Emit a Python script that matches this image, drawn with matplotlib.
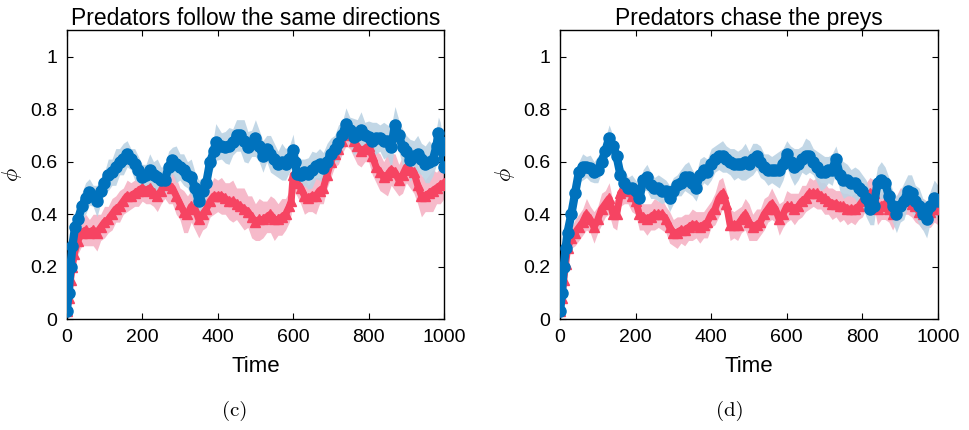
import matplotlib
matplotlib.use("Agg")
import matplotlib.pyplot as plt
import numpy as np

plt.rcParams['font.family'] = ['Liberation Sans', 'DejaVu Sans']
plt.rcParams['mathtext.fontset'] = 'cm'

# panel (c): predators follow the same directions
t_blue_c = [0, 5, 10, 15, 22, 30, 40, 50, 60, 70, 80, 90, 100, 110, 120, 130, 140, 150, 160, 170,
            180, 190, 200, 210, 220, 230, 240, 250, 260, 270, 280, 290, 300, 310, 320, 330, 340, 350,
            360, 370, 380, 390, 395, 410, 420, 430, 440, 450, 460, 470, 480, 490, 500, 510, 520, 530,
            540, 550, 560, 570, 580, 590, 600, 605, 610, 620, 630, 640, 650, 660, 670, 680, 690, 700,
            710, 720, 730, 740, 750, 760, 770, 780, 790, 800, 810, 820, 830, 840, 850, 860, 870, 880,
            890, 900, 910, 920, 930, 940, 950, 960, 970, 980, 985, 990, 995, 1000]
blue_c = [0.03, 0.10, 0.20, 0.28, 0.35, 0.38, 0.43, 0.46, 0.485, 0.47, 0.45, 0.49, 0.52, 0.55, 0.56, 0.58,
          0.60, 0.61, 0.63, 0.61, 0.59, 0.57, 0.54, 0.55, 0.57, 0.55, 0.54, 0.53, 0.53, 0.58, 0.605, 0.59,
          0.58, 0.57, 0.55, 0.54, 0.50, 0.45, 0.49, 0.52, 0.60, 0.64, 0.675, 0.66, 0.655, 0.66, 0.675, 0.70,
          0.70, 0.68, 0.655, 0.67, 0.69, 0.66, 0.62, 0.65, 0.63, 0.61, 0.59, 0.60, 0.59, 0.61, 0.645, 0.60,
          0.555, 0.55, 0.56, 0.555, 0.57, 0.585, 0.59, 0.575, 0.60, 0.63, 0.65, 0.67, 0.70, 0.745, 0.72,
          0.695, 0.70, 0.72, 0.70, 0.695, 0.68, 0.69, 0.69, 0.68, 0.68, 0.655, 0.74, 0.70, 0.655, 0.64,
          0.605, 0.62, 0.63, 0.61, 0.59, 0.60, 0.605, 0.66, 0.71, 0.68, 0.645, 0.58]
err_blue_c = [0.01, 0.02, 0.03, 0.04, 0.05, 0.05, 0.05, 0.06, 0.05, 0.04, 0.06, 0.05, 0.04, 0.06, 0.05, 0.07,
              0.05, 0.06, 0.05, 0.04, 0.06, 0.05, 0.05, 0.04, 0.06, 0.05, 0.07, 0.05, 0.05, 0.06, 0.05, 0.07,
              0.05, 0.06, 0.05, 0.07, 0.06, 0.08, 0.05, 0.06, 0.05, 0.06, 0.07, 0.05, 0.06, 0.07, 0.05, 0.06,
              0.06, 0.08, 0.06, 0.05, 0.07, 0.06, 0.06, 0.05, 0.07, 0.06, 0.05, 0.07, 0.06, 0.05, 0.06, 0.05,
              0.05, 0.06, 0.05, 0.06, 0.07, 0.05, 0.06, 0.06, 0.07, 0.06, 0.05, 0.07, 0.05, 0.06, 0.05, 0.07,
              0.06, 0.07, 0.05, 0.06, 0.07, 0.06, 0.05, 0.07, 0.06, 0.08, 0.07, 0.06, 0.07, 0.06, 0.08, 0.06,
              0.07, 0.06, 0.07, 0.08, 0.06, 0.07, 0.06, 0.07, 0.06, 0.05]

t_red_c = [0, 5, 10, 15, 20, 30, 40, 50, 60, 70, 80, 90, 100, 110, 120, 130, 140, 150, 160, 170, 180,
           190, 200, 210, 220, 230, 240, 250, 260, 270, 280, 290, 300, 310, 320, 330, 340, 350, 360, 370,
           380, 390, 400, 410, 420, 430, 440, 450, 460, 470, 480, 490, 500, 510, 520, 530, 540, 550, 560,
           570, 580, 590, 595, 600, 610, 620, 630, 640, 650, 660, 670, 680, 690, 700, 710, 720, 730, 740,
           750, 760, 770, 780, 790, 800, 810, 820, 830, 840, 850, 860, 870, 880, 890, 900, 910, 920, 930,
           940, 950, 960, 970, 980, 990, 1000]
red_c = [0.03, 0.08, 0.15, 0.20, 0.25, 0.30, 0.33, 0.34, 0.33, 0.34, 0.33, 0.35, 0.37, 0.38, 0.40, 0.42,
         0.43, 0.45, 0.47, 0.47, 0.48, 0.49, 0.50, 0.49, 0.50, 0.48, 0.47, 0.49, 0.52, 0.51, 0.50, 0.47,
         0.44, 0.41, 0.40, 0.43, 0.42, 0.38, 0.40, 0.42, 0.45, 0.47, 0.47, 0.47, 0.46, 0.45, 0.45, 0.44,
         0.43, 0.42, 0.41, 0.39, 0.37, 0.38, 0.38, 0.39, 0.40, 0.38, 0.38, 0.39, 0.40, 0.43, 0.45, 0.55,
         0.52, 0.50, 0.47, 0.46, 0.47, 0.47, 0.49, 0.50, 0.55, 0.60, 0.63, 0.65, 0.68, 0.72, 0.70, 0.68,
         0.66, 0.64, 0.65, 0.66, 0.62, 0.58, 0.56, 0.54, 0.55, 0.57, 0.56, 0.53, 0.55, 0.58, 0.57, 0.56,
         0.51, 0.47, 0.47, 0.48, 0.49, 0.50, 0.51, 0.52]
err_red_c = [0.01, 0.02, 0.03, 0.04, 0.05, 0.05, 0.05, 0.06, 0.05, 0.06, 0.07, 0.05, 0.06, 0.05, 0.06, 0.05,
             0.06, 0.05, 0.06, 0.05, 0.05, 0.06, 0.05, 0.05, 0.06, 0.05, 0.06, 0.05, 0.06, 0.07, 0.06, 0.07,
             0.06, 0.08, 0.07, 0.06, 0.08, 0.07, 0.06, 0.07, 0.06, 0.07, 0.06, 0.07, 0.06, 0.07, 0.08, 0.06,
             0.07, 0.08, 0.06, 0.08, 0.07, 0.08, 0.07, 0.06, 0.07, 0.08, 0.06, 0.07, 0.06, 0.06, 0.05, 0.06,
             0.05, 0.06, 0.07, 0.05, 0.06, 0.07, 0.05, 0.06, 0.05, 0.06, 0.05, 0.06, 0.05, 0.06, 0.05, 0.06,
             0.07, 0.06, 0.05, 0.06, 0.07, 0.06, 0.07, 0.06, 0.08, 0.06, 0.07, 0.06, 0.07, 0.06, 0.07, 0.08,
             0.07, 0.08, 0.06, 0.07, 0.08, 0.06, 0.07, 0.06]

# panel (d): predators chase the preys
t_blue_d = [0, 5, 10, 15, 20, 30, 40, 50, 60, 70, 80, 90, 100, 110, 120, 130, 140, 150, 160, 170, 180,
            190, 200, 210, 220, 230, 240, 250, 260, 270, 280, 290, 300, 310, 320, 330, 340, 350, 360, 370,
            380, 390, 400, 410, 420, 430, 440, 450, 460, 470, 480, 490, 500, 510, 520, 530, 540, 550, 560,
            570, 580, 590, 600, 610, 620, 630, 640, 650, 660, 670, 680, 690, 700, 710, 720, 730, 740, 750,
            760, 770, 780, 790, 800, 810, 820, 830, 840, 850, 860, 870, 880, 890, 900, 910, 920, 930, 940,
            950, 960, 970, 980, 990, 1000]
blue_d = [0.03, 0.10, 0.20, 0.27, 0.33, 0.40, 0.48, 0.56, 0.58, 0.58, 0.575, 0.56, 0.57, 0.60, 0.64, 0.69,
          0.66, 0.62, 0.55, 0.52, 0.50, 0.50, 0.49, 0.46, 0.53, 0.54, 0.51, 0.50, 0.50, 0.49, 0.49, 0.46,
          0.49, 0.51, 0.52, 0.54, 0.54, 0.52, 0.50, 0.55, 0.57, 0.56, 0.59, 0.61, 0.62, 0.62, 0.61, 0.60,
          0.59, 0.59, 0.59, 0.60, 0.59, 0.61, 0.62, 0.60, 0.58, 0.57, 0.57, 0.57, 0.57, 0.59, 0.63, 0.60,
          0.58, 0.59, 0.61, 0.62, 0.62, 0.60, 0.58, 0.56, 0.56, 0.57, 0.57, 0.61, 0.55, 0.53, 0.53, 0.52,
          0.52, 0.50, 0.49, 0.46, 0.42, 0.43, 0.52, 0.53, 0.52, 0.47, 0.43, 0.40, 0.43, 0.45, 0.49, 0.48,
          0.45, 0.43, 0.40, 0.38, 0.43, 0.46, 0.45]
err_blue_d = [0.01, 0.02, 0.03, 0.03, 0.04, 0.04, 0.04, 0.04, 0.05, 0.04, 0.05, 0.04, 0.05, 0.04, 0.05, 0.05,
              0.04, 0.05, 0.04, 0.05, 0.04, 0.05, 0.04, 0.05, 0.04, 0.05, 0.05, 0.04, 0.05, 0.05, 0.04, 0.05,
              0.05, 0.04, 0.05, 0.05, 0.06, 0.05, 0.05, 0.06, 0.05, 0.05, 0.06, 0.05, 0.05, 0.06, 0.05, 0.05,
              0.06, 0.05, 0.06, 0.07, 0.05, 0.06, 0.05, 0.06, 0.05, 0.06, 0.05, 0.06, 0.07, 0.06, 0.05, 0.06,
              0.07, 0.06, 0.05, 0.07, 0.06, 0.05, 0.06, 0.07, 0.06, 0.05, 0.06, 0.05, 0.06, 0.07, 0.06, 0.05,
              0.06, 0.07, 0.06, 0.07, 0.06, 0.07, 0.06, 0.07, 0.06, 0.07, 0.06, 0.07, 0.06, 0.07, 0.06, 0.07,
              0.06, 0.07, 0.06, 0.07, 0.06, 0.07, 0.06]

t_red_d = [0, 5, 10, 15, 20, 30, 40, 50, 60, 70, 80, 90, 100, 110, 120, 130, 140, 150, 160, 170, 180,
           190, 200, 210, 220, 230, 240, 250, 260, 270, 280, 290, 300, 310, 320, 330, 340, 350, 360, 370,
           380, 390, 400, 410, 420, 430, 440, 450, 460, 470, 480, 490, 500, 510, 520, 530, 540, 550, 560,
           570, 580, 590, 600, 610, 620, 630, 640, 650, 660, 670, 680, 690, 700, 710, 720, 730, 740, 750,
           760, 770, 780, 790, 800, 810, 820, 830, 840, 850, 860, 870, 880, 890, 900, 910, 920, 930, 940,
           950, 960, 970, 980, 990, 1000]
red_d = [0.03, 0.08, 0.15, 0.21, 0.27, 0.31, 0.33, 0.35, 0.37, 0.40, 0.38, 0.35, 0.38, 0.42, 0.44, 0.46,
         0.40, 0.40, 0.48, 0.50, 0.49, 0.47, 0.45, 0.40, 0.39, 0.38, 0.39, 0.40, 0.40, 0.40, 0.38, 0.35,
         0.33, 0.33, 0.34, 0.34, 0.35, 0.36, 0.36, 0.35, 0.36, 0.37, 0.40, 0.42, 0.46, 0.48, 0.44, 0.36,
         0.36, 0.36, 0.38, 0.40, 0.37, 0.35, 0.36, 0.37, 0.40, 0.42, 0.44, 0.42, 0.38, 0.40, 0.43, 0.43,
         0.42, 0.43, 0.45, 0.46, 0.48, 0.48, 0.48, 0.47, 0.46, 0.45, 0.44, 0.44, 0.43, 0.43, 0.42, 0.42,
         0.42, 0.43, 0.45, 0.47, 0.48, 0.48, 0.42, 0.43, 0.44, 0.42, 0.40, 0.42, 0.44, 0.45, 0.46, 0.44,
         0.43, 0.41, 0.40, 0.40, 0.41, 0.42, 0.42]
err_red_d = [0.01, 0.02, 0.03, 0.03, 0.04, 0.04, 0.05, 0.05, 0.05, 0.06, 0.05, 0.06, 0.05, 0.06, 0.05, 0.06,
             0.05, 0.06, 0.05, 0.06, 0.05, 0.06, 0.05, 0.06, 0.05, 0.06, 0.05, 0.06, 0.05, 0.06, 0.05, 0.06,
             0.05, 0.06, 0.05, 0.06, 0.05, 0.06, 0.05, 0.06, 0.05, 0.06, 0.05, 0.06, 0.07, 0.06, 0.05, 0.06,
             0.05, 0.06, 0.05, 0.06, 0.07, 0.05, 0.06, 0.05, 0.06, 0.05, 0.06, 0.05, 0.06, 0.05, 0.06, 0.05,
             0.06, 0.05, 0.06, 0.05, 0.06, 0.05, 0.06, 0.05, 0.06, 0.05, 0.06, 0.05, 0.06, 0.05, 0.06, 0.05,
             0.06, 0.05, 0.06, 0.05, 0.06, 0.05, 0.06, 0.05, 0.06, 0.05, 0.06, 0.05, 0.06, 0.05, 0.06, 0.05,
             0.06, 0.05, 0.06, 0.05, 0.06, 0.05, 0.06]

titles = ["Predators follow the same directions", "Predators chase the preys"]
captions = ["(c)", "(d)"]
x_ticks = [0, 200, 400, 600, 800, 1000]
y_ticks = [0, 0.2, 0.4, 0.6, 0.8, 1]
y_tick_labels = ["0", "0.2", "0.4", "0.6", "0.8", "1"]

BLUE = "#0072BD"
RED = "#F64462"
BLUE_BAND = "#BCD3E4"
RED_BAND = "#F6BACA"

panels = [
    (t_blue_c, blue_c, err_blue_c, t_red_c, red_c, err_red_c),
    (t_blue_d, blue_d, err_blue_d, t_red_d, red_d, err_red_d),
]

fig = plt.figure(figsize=(9.7, 4.3), dpi=100)
axes_pos = [[0.0688, 0.2574, 0.389, 0.672], [0.5773, 0.2574, 0.3897, 0.672]]
caption_x = [235 / 970, 730 / 970]

for k, (tb, b, eb, tr, r, er) in enumerate(panels):
    ax = fig.add_axes(axes_pos[k])
    tb, b, eb = np.array(tb), np.array(b), np.array(eb)
    tr, r, er = np.array(tr), np.array(r), np.array(er)
    ax.fill_between(tr, r - er, r + er, color=RED_BAND, lw=0, zorder=1)
    ax.fill_between(tb, b - eb, b + eb, color=BLUE_BAND, lw=0, alpha=0.9, zorder=2)
    ax.plot(tr, r, color=RED, lw=5, marker="^", ms=7.5, mec=RED, mfc=RED, zorder=3)
    ax.plot(tb, b, color=BLUE, lw=6, marker="o", ms=8, mec=BLUE, mfc=BLUE, zorder=4)

    ax.set_xlim(0, 1000)
    ax.set_ylim(0, 1.1)
    ax.set_xticks(x_ticks)
    ax.set_yticks(y_ticks)
    ax.set_yticklabels(y_tick_labels)
    ax.tick_params(direction="in", top=True, right=True, length=4, width=0.8,
                   labelsize=14, pad=7)
    for s in ax.spines.values():
        s.set_linewidth(1.0)
    ax.set_title(titles[k], fontsize=16.5, pad=4)
    ax.set_xlabel("Time", fontsize=16, labelpad=7)
    ax.set_ylabel(r"$\phi$", fontsize=16, labelpad=4)
    fig.text(caption_x[k], 0.045, captions[k], ha="center", va="center",
             fontsize=15, family="cmr10")

fig.savefig("out.png", dpi=100)
